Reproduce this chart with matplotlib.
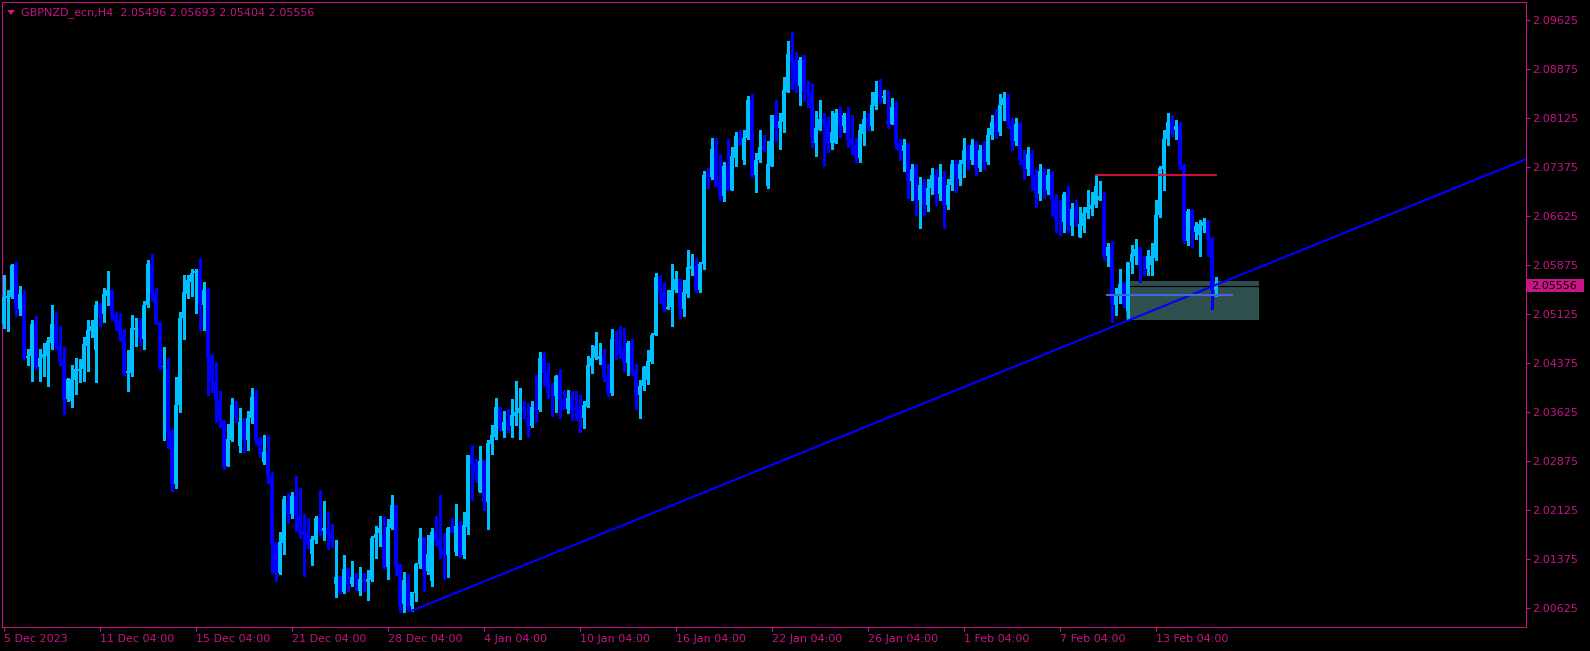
"""
plot.py
-------
GBPNZD H4 candles in MetaTrader style: rising trendline, resistance level,
support line and a demand zone near the last bar.
"""

import numpy as np
import matplotlib
matplotlib.use("Agg")
import matplotlib.pyplot as plt
from matplotlib.patches import Rectangle, Polygon
from matplotlib.transforms import blended_transform_factory

HEADER = "GBPNZD_ecn,H4  2.05496 2.05693 2.05404 2.05556"
LAST_PRICE = 2.05556

opens = [
    2.0498, 2.0537, 2.0538, 2.0587, 2.0521, 2.0540, 2.0445, 2.0448, 2.0498, 2.0431,
    2.0445, 2.0449, 2.0469, 2.0498, 2.0463, 2.0442, 2.0382, 2.0379, 2.0411, 2.0426,
    2.0429, 2.0463, 2.0486, 2.0457, 2.0526, 2.0512, 2.0541, 2.0549, 2.0511, 2.0503,
    2.0481, 2.0422, 2.0423, 2.0488, 2.0492, 2.0475, 2.0526, 2.0589, 2.0544, 2.0500,
    2.0431, 2.0428, 2.0333, 2.0252, 2.0373, 2.0506, 2.0544, 2.0561, 2.0575, 2.0579,
    2.0526, 2.0549, 2.0448, 2.0410, 2.0380, 2.0351, 2.0280, 2.0319, 2.0374, 2.0310,
    2.0347, 2.0319, 2.0353, 2.0385, 2.0321, 2.0286, 2.0302, 2.0264, 2.0162, 2.0116,
    2.0162, 2.0220, 2.0206, 2.0234, 2.0204, 2.0180, 2.0175, 2.0145, 2.0166, 2.0201,
    2.0180, 2.0185, 2.0177, 2.0099, 2.0110, 2.0087, 2.0122, 2.0099, 2.0110, 2.0088,
    2.0107, 2.0102, 2.0105, 2.0169, 2.0177, 2.0175, 2.0125, 2.0185, 2.0220, 2.0130,
    2.0068, 2.0100, 2.0065, 2.0085, 2.0130, 2.0171, 2.0119, 2.0104, 2.0179, 2.0166,
    2.0152, 2.0143, 2.0185, 2.0148, 2.0188, 2.0143, 2.0186, 2.0296, 2.0283, 2.0240,
    2.0287, 2.0224, 2.0313, 2.0324, 2.0371, 2.0333, 2.0347, 2.0341, 2.0356, 2.0361,
    2.0368, 2.0353, 2.0341, 2.0368, 2.0365, 2.0445, 2.0423, 2.0388, 2.0387, 2.0417,
    2.0380, 2.0367, 2.0384, 2.0368, 2.0367, 2.0354, 2.0371, 2.0433, 2.0445, 2.0443,
    2.0448, 2.0417, 2.0391, 2.0474, 2.0472, 2.0460, 2.0437, 2.0469, 2.0426, 2.0388,
    2.0403, 2.0411, 2.0439, 2.0480, 2.0569, 2.0547, 2.0520, 2.0523, 2.0549, 2.0566,
    2.0520, 2.0544, 2.0582, 2.0586, 2.0550, 2.0590, 2.0725, 2.0722, 2.0765, 2.0716,
    2.0694, 2.0739, 2.0703, 2.0752, 2.0781, 2.0749, 2.0783, 2.0841, 2.0725, 2.0748,
    2.0769, 2.0709, 2.0740, 2.0817, 2.0798, 2.0807, 2.0853, 2.0910, 2.0901, 2.0862,
    2.0901, 2.0855, 2.0852, 2.0774, 2.0795, 2.0812, 2.0806, 2.0774, 2.0775, 2.0820,
    2.0801, 2.0817, 2.0780, 2.0771, 2.0751, 2.0789, 2.0813, 2.0801, 2.0832, 2.0852,
    2.0844, 2.0809, 2.0804, 2.0830, 2.0775, 2.0763, 2.0772, 2.0717, 2.0734, 2.0688,
    2.0711, 2.0680, 2.0706, 2.0726, 2.0696, 2.0722, 2.0680, 2.0711, 2.0742, 2.0719,
    2.0742, 2.0764, 2.0749, 2.0772, 2.0737, 2.0764, 2.0746, 2.0787, 2.0807, 2.0792,
    2.0833, 2.0844, 2.0807, 2.0777, 2.0803, 2.0749, 2.0734, 2.0757, 2.0726, 2.0696,
    2.0731, 2.0703, 2.0726, 2.0688, 2.0657, 2.0654, 2.0696, 2.0648, 2.0673, 2.0631,
    2.0648, 2.0667, 2.0674, 2.0679, 2.0688, 2.0683, 2.0602, 2.0616, 2.0527, 2.0543,
    2.0558, 2.0518, 2.0592, 2.0602, 2.0613, 2.0587, 2.0582, 2.0587, 2.0599, 2.0664,
    2.0734, 2.0780, 2.0807, 2.0794, 2.0800, 2.0739, 2.0625, 2.0671, 2.0639, 2.0634,
    2.0648, 2.0654, 2.0628, 2.05496,
]

highs = [
    2.0572, 2.0549, 2.0590, 2.0593, 2.0556, 2.0549, 2.0459, 2.0504, 2.0509, 2.0459,
    2.0468, 2.0478, 2.0527, 2.0515, 2.0494, 2.0462, 2.0414, 2.0434, 2.0445, 2.0443,
    2.0478, 2.0504, 2.0503, 2.0532, 2.0530, 2.0553, 2.0578, 2.0549, 2.0515, 2.0514,
    2.0489, 2.0457, 2.0511, 2.0507, 2.0506, 2.0532, 2.0595, 2.0605, 2.0553, 2.0500,
    2.0462, 2.0445, 2.0336, 2.0416, 2.0515, 2.0573, 2.0572, 2.0582, 2.0581, 2.0599,
    2.0561, 2.0552, 2.0451, 2.0439, 2.0394, 2.0351, 2.0344, 2.0384, 2.0380, 2.0368,
    2.0353, 2.0364, 2.0400, 2.0396, 2.0324, 2.0327, 2.0327, 2.0270, 2.0163, 2.0179,
    2.0234, 2.0238, 2.0240, 2.0264, 2.0246, 2.0206, 2.0201, 2.0172, 2.0203, 2.0243,
    2.0226, 2.0209, 2.0191, 2.0166, 2.0111, 2.0143, 2.0123, 2.0134, 2.0116, 2.0125,
    2.0116, 2.0120, 2.0172, 2.0188, 2.0203, 2.0203, 2.0198, 2.0235, 2.0220, 2.0130,
    2.0117, 2.0114, 2.0087, 2.0131, 2.0185, 2.0171, 2.0174, 2.0185, 2.0203, 2.0235,
    2.0177, 2.0186, 2.0200, 2.0221, 2.0195, 2.0209, 2.0296, 2.0312, 2.0290, 2.0310,
    2.0289, 2.0319, 2.0342, 2.0384, 2.0371, 2.0364, 2.0367, 2.0382, 2.0410, 2.0400,
    2.0379, 2.0376, 2.0380, 2.0419, 2.0455, 2.0455, 2.0437, 2.0407, 2.0419, 2.0429,
    2.0397, 2.0396, 2.0394, 2.0394, 2.0388, 2.0380, 2.0448, 2.0465, 2.0485, 2.0468,
    2.0459, 2.0436, 2.0489, 2.0486, 2.0495, 2.0491, 2.0471, 2.0474, 2.0436, 2.0411,
    2.0433, 2.0457, 2.0483, 2.0576, 2.0572, 2.0561, 2.0549, 2.0589, 2.0579, 2.0567,
    2.0564, 2.0610, 2.0605, 2.0599, 2.0593, 2.0731, 2.0737, 2.0783, 2.0783, 2.0757,
    2.0745, 2.0781, 2.0769, 2.0792, 2.0795, 2.0794, 2.0846, 2.0850, 2.0760, 2.0795,
    2.0787, 2.0778, 2.0818, 2.0841, 2.0821, 2.0875, 2.0931, 2.0944, 2.0914, 2.0907,
    2.0910, 2.0869, 2.0866, 2.0824, 2.0841, 2.0821, 2.0815, 2.0823, 2.0827, 2.0830,
    2.0820, 2.0829, 2.0818, 2.0783, 2.0804, 2.0823, 2.0821, 2.0852, 2.0869, 2.0872,
    2.0855, 2.0855, 2.0844, 2.0839, 2.0781, 2.0780, 2.0774, 2.0742, 2.0742, 2.0722,
    2.0719, 2.0719, 2.0737, 2.0734, 2.0742, 2.0731, 2.0719, 2.0749, 2.0749, 2.0749,
    2.0783, 2.0772, 2.0780, 2.0777, 2.0772, 2.0777, 2.0798, 2.0818, 2.0826, 2.0849,
    2.0853, 2.0849, 2.0813, 2.0813, 2.0807, 2.0764, 2.0768, 2.0764, 2.0734, 2.0742,
    2.0737, 2.0734, 2.0731, 2.0696, 2.0688, 2.0699, 2.0708, 2.0683, 2.0687, 2.0677,
    2.0677, 2.0702, 2.0699, 2.0726, 2.0716, 2.0700, 2.0622, 2.0625, 2.0552, 2.0582,
    2.0562, 2.0593, 2.0618, 2.0627, 2.0616, 2.0602, 2.0610, 2.0622, 2.0688, 2.0740,
    2.0795, 2.0820, 2.0817, 2.0810, 2.0807, 2.0742, 2.0673, 2.0673, 2.0654, 2.0657,
    2.0660, 2.0657, 2.0630, 2.05693,
]

lows = [
    2.0491, 2.0486, 2.0537, 2.0509, 2.0511, 2.0443, 2.0434, 2.0410, 2.0429, 2.0410,
    2.0417, 2.0403, 2.0459, 2.0459, 2.0434, 2.0359, 2.0379, 2.0371, 2.0390, 2.0408,
    2.0410, 2.0426, 2.0478, 2.0408, 2.0494, 2.0500, 2.0527, 2.0503, 2.0488, 2.0471,
    2.0420, 2.0394, 2.0417, 2.0463, 2.0465, 2.0459, 2.0523, 2.0532, 2.0497, 2.0429,
    2.0319, 2.0307, 2.0241, 2.0246, 2.0362, 2.0475, 2.0537, 2.0540, 2.0514, 2.0488,
    2.0488, 2.0388, 2.0393, 2.0348, 2.0339, 2.0276, 2.0280, 2.0318, 2.0347, 2.0302,
    2.0301, 2.0305, 2.0345, 2.0313, 2.0293, 2.0283, 2.0254, 2.0116, 2.0104, 2.0114,
    2.0145, 2.0192, 2.0200, 2.0180, 2.0169, 2.0111, 2.0154, 2.0128, 2.0162, 2.0174,
    2.0166, 2.0152, 2.0156, 2.0079, 2.0085, 2.0085, 2.0088, 2.0096, 2.0090, 2.0082,
    2.0088, 2.0074, 2.0104, 2.0139, 2.0157, 2.0123, 2.0107, 2.0183, 2.0113, 2.0056,
    2.0056, 2.0058, 2.0058, 2.0073, 2.0123, 2.0088, 2.0114, 2.0096, 2.0159, 2.0139,
    2.0107, 2.0110, 2.0179, 2.0143, 2.0140, 2.0139, 2.0175, 2.0228, 2.0255, 2.0240,
    2.0212, 2.0183, 2.0299, 2.0321, 2.0335, 2.0324, 2.0332, 2.0324, 2.0342, 2.0322,
    2.0353, 2.0325, 2.0339, 2.0348, 2.0364, 2.0403, 2.0384, 2.0356, 2.0362, 2.0353,
    2.0367, 2.0361, 2.0351, 2.0350, 2.0332, 2.0338, 2.0371, 2.0422, 2.0443, 2.0436,
    2.0410, 2.0387, 2.0388, 2.0443, 2.0445, 2.0426, 2.0419, 2.0420, 2.0367, 2.0353,
    2.0397, 2.0405, 2.0437, 2.0480, 2.0530, 2.0518, 2.0520, 2.0494, 2.0546, 2.0507,
    2.0509, 2.0538, 2.0572, 2.0547, 2.0547, 2.0581, 2.0705, 2.0720, 2.0709, 2.0688,
    2.0685, 2.0703, 2.0702, 2.0740, 2.0771, 2.0743, 2.0780, 2.0722, 2.0700, 2.0745,
    2.0763, 2.0705, 2.0739, 2.0778, 2.0766, 2.0791, 2.0853, 2.0858, 2.0852, 2.0833,
    2.0839, 2.0829, 2.0769, 2.0755, 2.0795, 2.0739, 2.0761, 2.0766, 2.0775, 2.0784,
    2.0791, 2.0769, 2.0758, 2.0746, 2.0745, 2.0771, 2.0794, 2.0794, 2.0827, 2.0836,
    2.0836, 2.0798, 2.0804, 2.0766, 2.0748, 2.0731, 2.0691, 2.0688, 2.0665, 2.0645,
    2.0665, 2.0670, 2.0696, 2.0680, 2.0688, 2.0645, 2.0673, 2.0703, 2.0700, 2.0711,
    2.0722, 2.0734, 2.0742, 2.0726, 2.0731, 2.0734, 2.0742, 2.0780, 2.0783, 2.0787,
    2.0810, 2.0798, 2.0764, 2.0772, 2.0742, 2.0719, 2.0726, 2.0703, 2.0676, 2.0688,
    2.0691, 2.0696, 2.0665, 2.0639, 2.0634, 2.0639, 2.0639, 2.0633, 2.0647, 2.0631,
    2.0638, 2.0660, 2.0665, 2.0677, 2.0688, 2.0596, 2.0586, 2.0501, 2.0511, 2.0530,
    2.0524, 2.0503, 2.0575, 2.0589, 2.0561, 2.0572, 2.0572, 2.0573, 2.0596, 2.0662,
    2.0703, 2.0771, 2.0786, 2.0780, 2.0734, 2.0622, 2.0619, 2.0616, 2.0627, 2.0602,
    2.0639, 2.0601, 2.0520, 2.05404,
]

closes = [
    2.0538, 2.0540, 2.0587, 2.0521, 2.0543, 2.0445, 2.0449, 2.0498, 2.0431, 2.0446,
    2.0452, 2.0471, 2.0498, 2.0463, 2.0440, 2.0382, 2.0413, 2.0413, 2.0428, 2.0429,
    2.0466, 2.0488, 2.0494, 2.0526, 2.0512, 2.0543, 2.0550, 2.0509, 2.0500, 2.0480,
    2.0422, 2.0425, 2.0491, 2.0492, 2.0478, 2.0527, 2.0589, 2.0543, 2.0498, 2.0431,
    2.0433, 2.0333, 2.0252, 2.0374, 2.0507, 2.0546, 2.0564, 2.0576, 2.0579, 2.0526,
    2.0549, 2.0445, 2.0410, 2.0379, 2.0350, 2.0280, 2.0321, 2.0374, 2.0356, 2.0347,
    2.0319, 2.0354, 2.0385, 2.0319, 2.0298, 2.0302, 2.0263, 2.0160, 2.0116, 2.0163,
    2.0229, 2.0206, 2.0234, 2.0203, 2.0179, 2.0174, 2.0159, 2.0168, 2.0201, 2.0180,
    2.0185, 2.0175, 2.0163, 2.0110, 2.0087, 2.0122, 2.0099, 2.0110, 2.0107, 2.0107,
    2.0102, 2.0107, 2.0169, 2.0175, 2.0185, 2.0125, 2.0186, 2.0220, 2.0128, 2.0065,
    2.0105, 2.0065, 2.0087, 2.0130, 2.0169, 2.0119, 2.0145, 2.0179, 2.0165, 2.0151,
    2.0143, 2.0185, 2.0179, 2.0188, 2.0142, 2.0189, 2.0296, 2.0281, 2.0270, 2.0287,
    2.0224, 2.0315, 2.0327, 2.0371, 2.0336, 2.0347, 2.0341, 2.0358, 2.0362, 2.0368,
    2.0365, 2.0341, 2.0370, 2.0365, 2.0445, 2.0423, 2.0391, 2.0387, 2.0417, 2.0379,
    2.0368, 2.0384, 2.0365, 2.0365, 2.0353, 2.0373, 2.0434, 2.0445, 2.0463, 2.0448,
    2.0416, 2.0391, 2.0475, 2.0471, 2.0451, 2.0437, 2.0469, 2.0425, 2.0387, 2.0403,
    2.0431, 2.0440, 2.0481, 2.0569, 2.0547, 2.0520, 2.0524, 2.0549, 2.0567, 2.0520,
    2.0546, 2.0584, 2.0586, 2.0550, 2.0590, 2.0725, 2.0720, 2.0766, 2.0709, 2.0693,
    2.0739, 2.0703, 2.0754, 2.0786, 2.0771, 2.0783, 2.0841, 2.0725, 2.0749, 2.0768,
    2.0764, 2.0742, 2.0817, 2.0798, 2.0809, 2.0855, 2.0911, 2.0899, 2.0864, 2.0901,
    2.0852, 2.0852, 2.0784, 2.0797, 2.0812, 2.0804, 2.0774, 2.0791, 2.0821, 2.0803,
    2.0817, 2.0778, 2.0771, 2.0751, 2.0794, 2.0812, 2.0801, 2.0833, 2.0852, 2.0844,
    2.0847, 2.0803, 2.0830, 2.0774, 2.0763, 2.0772, 2.0717, 2.0734, 2.0688, 2.0711,
    2.0680, 2.0706, 2.0726, 2.0696, 2.0722, 2.0680, 2.0711, 2.0742, 2.0719, 2.0742,
    2.0764, 2.0749, 2.0772, 2.0737, 2.0764, 2.0746, 2.0787, 2.0807, 2.0792, 2.0833,
    2.0844, 2.0807, 2.0777, 2.0803, 2.0749, 2.0734, 2.0757, 2.0726, 2.0696, 2.0731,
    2.0703, 2.0726, 2.0688, 2.0657, 2.0654, 2.0696, 2.0647, 2.0673, 2.0656, 2.0650,
    2.0668, 2.0676, 2.0679, 2.0708, 2.0694, 2.0602, 2.0616, 2.0527, 2.0543, 2.0558,
    2.0530, 2.0593, 2.0604, 2.0613, 2.0586, 2.0586, 2.0601, 2.0602, 2.0665, 2.0737,
    2.0780, 2.0807, 2.0794, 2.0800, 2.0739, 2.0625, 2.0671, 2.0641, 2.0647, 2.0650,
    2.0654, 2.0628, 2.0550, 2.05556,
]

# x axis: one tick every 24 bars (4 trading days of H4)
xtick_bars = [0, 24, 48, 72, 96, 120, 144, 168, 192, 216, 240, 264, 288]
xtick_labels = ["5 Dec 2023", "11 Dec 04:00", "15 Dec 04:00", "21 Dec 04:00",
                "28 Dec 04:00", "4 Jan 04:00", "10 Jan 04:00", "16 Jan 04:00",
                "22 Jan 04:00", "26 Jan 04:00", "1 Feb 04:00", "7 Feb 04:00",
                "13 Feb 04:00"]
ytick_prices = [2.00625, 2.01375, 2.02125, 2.02875, 2.03625, 2.04375, 2.05125,
                2.05875, 2.06625, 2.07375, 2.08125, 2.08875, 2.09625]

# drawn objects: trendline anchors (bar, price), levels and zone
trend_bars = [102, 303]
trend_prices = [2.0058, 2.0557]
resist_bars = [273, 303]
resist_price = 2.0726
support_bars = [275.9, 307.1]
support_price = 2.05423
zone_bars = [280.6, 313.8]
zone_prices = [2.05035, 2.05633]

MAG = "#C71585"
BULL = "#00BFFF"
BEAR = "#0000FF"

W, H = 1590, 651
AX_L, AX_R, AX_T, AX_B = 2, 1526, 1.5, 627   # plot frame in pixels
fig = plt.figure(figsize=(W / 100, H / 100), dpi=100, facecolor="black")
ax = fig.add_axes([AX_L / W, 1 - AX_B / H, (AX_R - AX_L) / W, (AX_B - AX_T) / H],
                  facecolor="black")
# 4 px per bar, bodies land on whole pixels
ax.set_xlim(-0.375, -0.375 + (AX_R - AX_L) / 4)
ax.set_ylim(2.00333, 2.09913)

o = np.array(opens)
h = np.array(highs)
l = np.array(lows)
c = np.array(closes)
idx = np.arange(len(c))
cols = np.where(c >= o, BULL, BEAR)

# zone and current price line under the candles
ax.add_patch(Rectangle((zone_bars[0], zone_prices[0]), zone_bars[1] - zone_bars[0],
                       zone_prices[1] - zone_prices[0], facecolor="#2F4F4F",
                       edgecolor="none", zorder=1))
ax.axhline(LAST_PRICE, color="black", lw=0.9, zorder=2)

ax.vlines(idx, l, h, colors=cols, linewidth=0.75, antialiased=False, zorder=3)
body = np.maximum(np.abs(c - o), 0.00016)
ax.bar(idx, body, bottom=np.minimum(o, c), width=0.75, color=cols,
       linewidth=0, antialiased=False, zorder=4)

# trendline ray to the right edge
slope = (trend_prices[1] - trend_prices[0]) / (trend_bars[1] - trend_bars[0])
x_end = ax.get_xlim()[1]
ax.plot([trend_bars[0], x_end],
        [trend_prices[0], trend_prices[0] + slope * (x_end - trend_bars[0])],
        color=BEAR, lw=1.5, zorder=5)
ax.plot(resist_bars, [resist_price] * 2, color="#DC143C", lw=1.3, zorder=5)
ax.plot(support_bars, [support_price] * 2, color="#4169E1", lw=1.5, zorder=5)

# axes styling
for s in ax.spines.values():
    s.set_color(MAG)
    s.set_linewidth(0.75)
ax.yaxis.tick_right()
ax.set_yticks(ytick_prices)
ax.set_yticklabels([f"{p:.5f}" for p in ytick_prices])
ax.set_xticks(xtick_bars)
ax.set_xticklabels(xtick_labels, ha="left")
ax.tick_params(axis="both", direction="out", length=3, width=0.75,
               colors=MAG, labelsize=8)
ax.tick_params(axis="y", pad=1.5)
ax.tick_params(axis="x", pad=2)

# last price tag on the price scale
ax_w = AX_R - AX_L
tr = blended_transform_factory(ax.transAxes, ax.transData)
ax.add_patch(Rectangle((1 + 1 / ax_w, LAST_PRICE - 0.00099), 57 / ax_w, 0.00199,
                       transform=tr, facecolor=MAG, edgecolor="none",
                       clip_on=False, zorder=6))
ax.text(1 + 5.5 / ax_w, LAST_PRICE, f"{LAST_PRICE:.5f}", transform=tr,
        ha="left", va="center", fontsize=8, color="black", zorder=7)

# header
fig.add_artist(Polygon([[7 / W, 1 - 10 / H], [15 / W, 1 - 10 / H], [11 / W, 1 - 15 / H]],
                       closed=True, transform=fig.transFigure,
                       facecolor=MAG, edgecolor="none"))
fig.text(21 / W, 1 - 12.5 / H, HEADER, color=MAG, fontsize=8, va="center", ha="left")

fig.savefig("out.png", dpi=100, facecolor="black")
